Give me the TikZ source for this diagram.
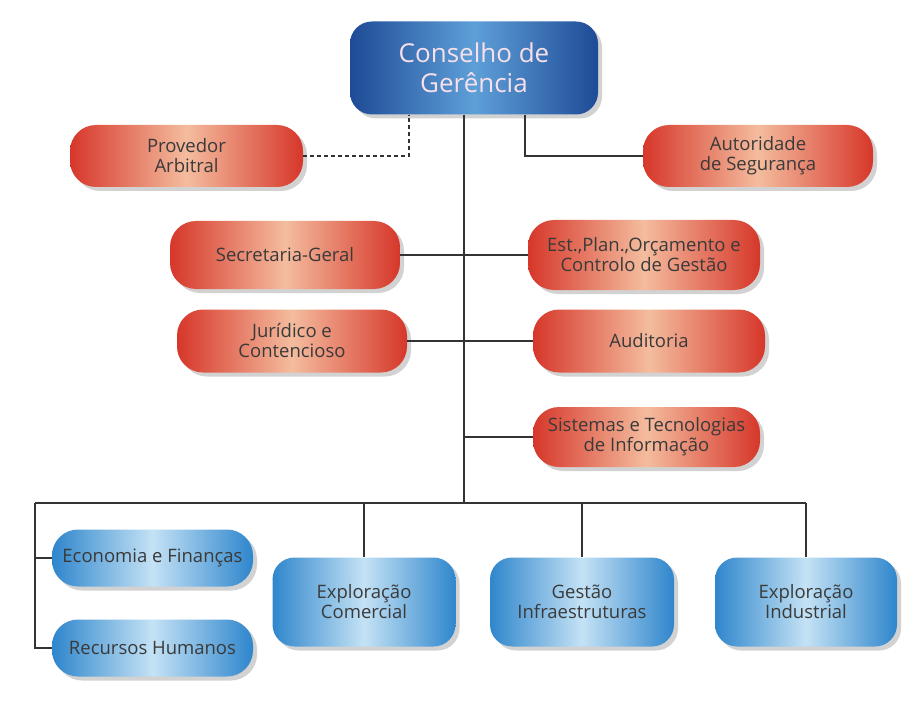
\documentclass[tikz,border=0pt]{standalone}
\usepackage{fontspec}
\setmainfont{Open Sans}
\usetikzlibrary{shadows}
\definecolor{redEdge}{HTML}{D6372A}
\definecolor{redMid}{HTML}{F4BC9E}
\definecolor{blueEdge}{HTML}{2F86CC}
\definecolor{blueMid}{HTML}{C4E2F5}
\definecolor{cgEdge}{HTML}{1E4B96}
\definecolor{cgMid}{HTML}{5E9FD8}
\definecolor{cgText}{HTML}{F7E0EA}
\definecolor{txt}{HTML}{3A3A3A}
\definecolor{lineC}{HTML}{333333}
\tikzset{
  boxbase/.style={rectangle, align=center, inner sep=0pt, text=txt,
    font=\fontsize{18.5}{20}\selectfont,
    drop shadow={opacity=0.35, shadow xshift=4pt, shadow yshift=-4pt}},
  redbox/.style={boxbase, rounded corners=26pt, left color=redEdge, right color=redEdge, middle color=redMid},
  bluepill/.style={boxbase, rounded corners=26pt, left color=blueEdge, right color=blueEdge, middle color=blueMid},
  bluebox/.style={boxbase, rounded corners=22pt, left color=blueEdge, right color=blueEdge, middle color=blueMid},
  topbox/.style={boxbase, rounded corners=22pt, left color=cgEdge, right color=cgEdge, middle color=cgMid,
    text=cgText, font=\fontsize{26}{30}\selectfont},
  conn/.style={draw=lineC, line width=1.5pt},
  dashconn/.style={draw=lineC, line width=1.8pt, dash pattern=on 4pt off 3pt}
}
\begin{document}
\begin{tikzpicture}[x=1pt, y=-1pt]
\useasboundingbox[fill=white] (0,0) rectangle (918,714);
% nodes
\node[topbox, minimum width=248pt, minimum height=93pt] (cg) at (474,68) {Conselho de\\Gerência};
\node[redbox, minimum width=233pt, minimum height=62pt] (prov) at (186.5,156) {Provedor\\Arbitral};
\node[redbox, minimum width=230pt, minimum height=62pt] (aut) at (758,156) {Autoridade\\de Segurança};
\node[redbox, minimum width=230pt, minimum height=68pt] (sec) at (285,255) {Secretaria-Geral};
\node[redbox, minimum width=232pt, minimum height=70pt] (est) at (644,255) {Est.,Plan.,Orçamento e\\Controlo de Gestão};
\node[redbox, minimum width=230pt, minimum height=63pt] (jur) at (292,341) {Jurídico e\\Contencioso};
\node[redbox, minimum width=232pt, minimum height=63pt] (aud) at (649,341) {Auditoria};
\node[redbox, minimum width=227pt, minimum height=60pt] (sis) at (646.5,437) {Sistemas e Tecnologias\\de Informação};
\node[bluepill, minimum width=201pt, minimum height=57pt] (eco) at (152.5,558) {Economia e Finanças};
\node[bluepill, minimum width=201pt, minimum height=57pt] (rh) at (152.5,648) {Recursos Humanos};
\node[bluebox, minimum width=183pt, minimum height=89pt] (ec) at (364,602) {Exploração\\Comercial};
\node[bluebox, minimum width=184pt, minimum height=89pt] (gi) at (582,602) {Gestão\\Infraestruturas};
\node[bluebox, minimum width=182pt, minimum height=89pt] (ei) at (806,602) {Exploração\\Industrial};
% coordinates
\coordinate (trunkTop) at ([xshift=-10pt]cg.south);
\coordinate (busM) at (464,503);
\coordinate (busL) at (35,503);
\coordinate (busR) at (806,503);
% connectors
\draw[dashconn] (prov.east) -| ([xshift=-65pt]cg.south);
\draw[conn] ([xshift=51pt]cg.south) |- (aut.west);
\draw[conn] (trunkTop) -- (busM);
\draw[conn] (sec.east) -- (est.west);
\draw[conn] (jur.east) -- (aud.west);
\draw[conn] (sis.west) -- (sis.west -| busM);
\draw[conn] (busL) -- (busR);
\draw[conn] (busL) |- (eco.west);
\draw[conn] (busL) |- (rh.west);
\draw[conn] (ec.north) -- (ec.north |- busM);
\draw[conn] (gi.north) -- (gi.north |- busM);
\draw[conn] (ei.north) -- (ei.north |- busM);
\end{tikzpicture}
\end{document}
